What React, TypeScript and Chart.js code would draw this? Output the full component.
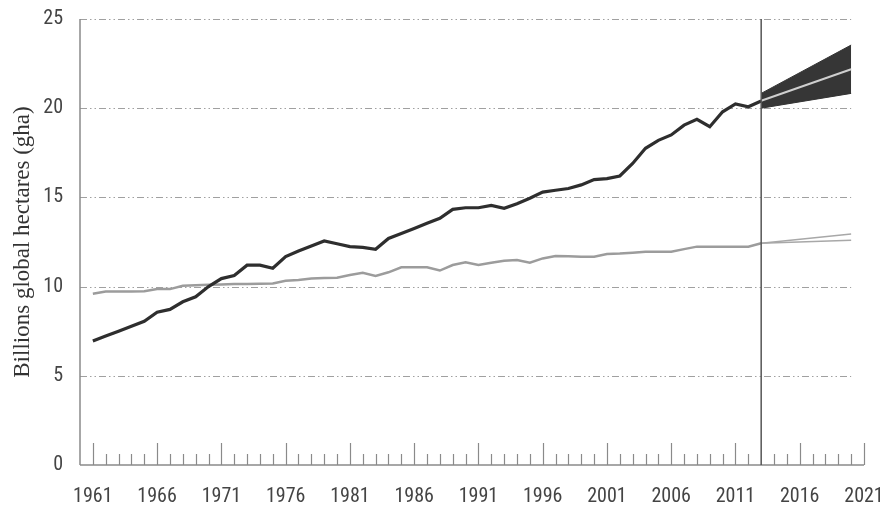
import React, { useEffect, useRef } from "react";
import { Chart, registerables } from "chart.js";

Chart.register(...registerables);

// Historical years (1961–2013)
const years = [
  1961, 1962, 1963, 1964, 1965, 1966, 1967, 1968, 1969, 1970,
  1971, 1972, 1973, 1974, 1975, 1976, 1977, 1978, 1979, 1980,
  1981, 1982, 1983, 1984, 1985, 1986, 1987, 1988, 1989, 1990,
  1991, 1992, 1993, 1994, 1995, 1996, 1997, 1998, 1999, 2000,
  2001, 2002, 2003, 2004, 2005, 2006, 2007, 2008, 2009, 2010,
  2011, 2012, 2013,
];

// Ecological footprint (billion gha)
const footprint = [
  6.95, 7.23, 7.5, 7.78, 8.06, 8.56, 8.72, 9.15, 9.43, 10.0,
  10.45, 10.62, 11.2, 11.2, 11.03, 11.68, 12.0, 12.28, 12.56, 12.4,
  12.24, 12.2, 12.09, 12.7, 12.98, 13.26, 13.55, 13.83, 14.33, 14.42,
  14.42, 14.55, 14.39, 14.65, 14.95, 15.3, 15.4, 15.5, 15.7, 16.0,
  16.05, 16.2, 16.9, 17.75, 18.2, 18.5, 19.05, 19.38, 18.96, 19.8,
  20.24, 20.08, 20.4,
];

// Biocapacity (billion gha)
const biocapacity = [
  9.6, 9.72, 9.72, 9.72, 9.74, 9.86, 9.86, 10.05, 10.08, 10.1,
  10.12, 10.14, 10.15, 10.16, 10.18, 10.33, 10.37, 10.46, 10.48, 10.5,
  10.65, 10.78, 10.6, 10.8, 11.08, 11.08, 11.08, 10.9, 11.21, 11.36,
  11.21, 11.34, 11.45, 11.49, 11.34, 11.58, 11.71, 11.7, 11.68, 11.68,
  11.83, 11.85, 11.9, 11.96, 11.96, 11.96, 12.1, 12.24, 12.24, 12.24,
  12.24, 12.24, 12.43,
];

// Projection (2013–2020)
const projYears = [2013, 2020];
const footprintProjMid = [20.42, 22.18];
const footprintProjHigh = [20.83, 23.54];
const footprintProjLow = [20.0, 20.83];
const bioProjHigh = [12.43, 12.95];
const bioProjLow = [12.43, 12.6];

// Axis ticks
const xLabelYears = [1961, 1966, 1971, 1976, 1981, 1986, 1991, 1996, 2001, 2006, 2011, 2016, 2021];
const tickYears = [
  1961, 1962, 1963, 1964, 1965, 1966, 1967, 1968, 1969, 1970,
  1971, 1972, 1973, 1974, 1975, 1976, 1977, 1978, 1979, 1980,
  1981, 1982, 1983, 1984, 1985, 1986, 1987, 1988, 1989, 1990,
  1991, 1992, 1993, 1994, 1995, 1996, 1997, 1998, 1999, 2000,
  2001, 2002, 2003, 2004, 2005, 2006, 2007, 2008, 2009, 2010,
  2011, 2012, 2014, 2015, 2016, 2017, 2018, 2019, 2020, 2021,
];
const yGridValues = [5, 10, 15, 20, 25];
const splitYear = 2013;
const gridEndYear = 2020;
const yTitle = "Billions global hectares (gha)";

const toPts = (xs: number[], ys: number[]) => xs.map((x, i) => ({ x, y: ys[i] }));

const decorPlugin = {
  id: "decor",
  beforeDatasetsDraw(chart: any) {
    const { ctx, chartArea, scales } = chart;
    const xs = scales.x;
    const ys = scales.y;
    ctx.save();
    ctx.strokeStyle = "#a0a0a0";
    ctx.lineWidth = 1;
    ctx.setLineDash([7, 3, 1.5, 3, 1.5, 3]);
    const xEnd = xs.getPixelForValue(gridEndYear);
    for (const v of yGridValues) {
      const py = Math.round(ys.getPixelForValue(v)) + 0.5;
      ctx.beginPath();
      ctx.moveTo(chartArea.left, py);
      ctx.lineTo(xEnd, py);
      ctx.stroke();
    }
    ctx.restore();
  },
  afterDatasetsDraw(chart: any) {
    const { ctx, chartArea, scales } = chart;
    const xs = scales.x;
    const ys = scales.y;
    const base = ys.getPixelForValue(0);
    ctx.save();
    ctx.strokeStyle = "#8a8a8a";
    ctx.lineWidth = 1.5;
    ctx.beginPath();
    ctx.moveTo(chartArea.left, chartArea.top);
    ctx.lineTo(chartArea.left, base);
    ctx.stroke();
    ctx.beginPath();
    ctx.moveTo(chartArea.left, base);
    ctx.lineTo(xs.getPixelForValue(2021), base);
    ctx.stroke();
    ctx.lineWidth = 1.2;
    for (const yr of tickYears) {
      const px = Math.round(xs.getPixelForValue(yr)) + 0.5;
      const major = xLabelYears.includes(yr);
      ctx.beginPath();
      ctx.moveTo(px, base);
      ctx.lineTo(px, base - (major ? 22 : 11));
      ctx.stroke();
    }
    ctx.strokeStyle = "#555";
    ctx.lineWidth = 1.5;
    const sx = xs.getPixelForValue(splitYear);
    ctx.beginPath();
    ctx.moveTo(sx, chartArea.top);
    ctx.lineTo(sx, base);
    ctx.stroke();
    ctx.restore();
  },
};

export default function App() {
  const ref = useRef<HTMLCanvasElement>(null);
  useEffect(() => {
    if (!ref.current) return;
    const tickFont = { family: "'Roboto Condensed', 'Liberation Sans', sans-serif", size: 20 };
    const chart = new Chart(ref.current, {
      type: "line",
      data: {
        datasets: [
          {
            label: "Footprint projection high",
            data: toPts(projYears, footprintProjHigh),
            borderColor: "#333",
            borderWidth: 1,
            backgroundColor: "#363636",
            pointRadius: 0,
            fill: "+1",
            order: 6,
          },
          {
            label: "Footprint projection low",
            data: toPts(projYears, footprintProjLow),
            borderColor: "#333",
            borderWidth: 1,
            pointRadius: 0,
            fill: false,
            order: 5,
          },
          {
            label: "Footprint projection",
            data: toPts(projYears, footprintProjMid),
            borderColor: "#cfcfcf",
            borderWidth: 2,
            pointRadius: 0,
            fill: false,
            order: 0,
          },
          {
            label: "Biocapacity projection high",
            data: toPts(projYears, bioProjHigh),
            borderColor: "#a8a8a8",
            borderWidth: 1.5,
            pointRadius: 0,
            fill: false,
            order: 3,
          },
          {
            label: "Biocapacity projection low",
            data: toPts(projYears, bioProjLow),
            borderColor: "#a8a8a8",
            borderWidth: 1.5,
            pointRadius: 0,
            fill: false,
            order: 3,
          },
          {
            label: "Biocapacity",
            data: toPts(years, biocapacity),
            borderColor: "#9c9c9c",
            borderWidth: 2.5,
            pointRadius: 0,
            fill: false,
            order: 2,
          },
          {
            label: "Ecological Footprint",
            data: toPts(years, footprint),
            borderColor: "#2e2e2e",
            borderWidth: 3.2,
            pointRadius: 0,
            fill: false,
            order: 1,
          },
        ],
      },
      options: {
        responsive: false,
        animation: false,
        layout: { padding: { left: 0, right: 16, top: 19, bottom: 0 } },
        plugins: { legend: { display: false }, tooltip: { enabled: false } },
        scales: {
          x: {
            type: "linear",
            min: 1960,
            max: 2021,
            grid: { display: false, drawTicks: false },
            border: { display: false },
            afterBuildTicks: (s: any) => {
              s.ticks = xLabelYears.map((v) => ({ value: v }));
            },
            afterFit: (s: any) => {
              s.height = 44;
              s.paddingLeft = 0;
              s.paddingRight = 0;
            },
            ticks: {
              autoSkip: false,
              maxRotation: 0,
              padding: 20,
              color: "#444",
              font: tickFont,
              callback: (v: any) => String(v),
            },
          },
          y: {
            min: 0,
            max: 25,
            grid: { display: false, drawTicks: false },
            border: { display: false },
            afterFit: (s: any) => {
              s.width = 80;
              s.paddingTop = 0;
              s.paddingBottom = 0;
            },
            ticks: {
              stepSize: 5,
              padding: 17,
              color: "#444",
              font: tickFont,
            },
            title: {
              display: true,
              text: yTitle,
              color: "#333",
              font: { family: "'Liberation Serif', 'DejaVu Serif', serif", size: 23 },
              padding: { top: 9, bottom: 0 },
            },
          },
        },
      },
      plugins: [decorPlugin],
    });
    return () => chart.destroy();
  }, []);
  return (
    <div style={{ position: "absolute", left: 0, top: 0, width: 880, height: 509, background: "#fff" }}>
      <canvas ref={ref} width={880} height={509} />
    </div>
  );
}
